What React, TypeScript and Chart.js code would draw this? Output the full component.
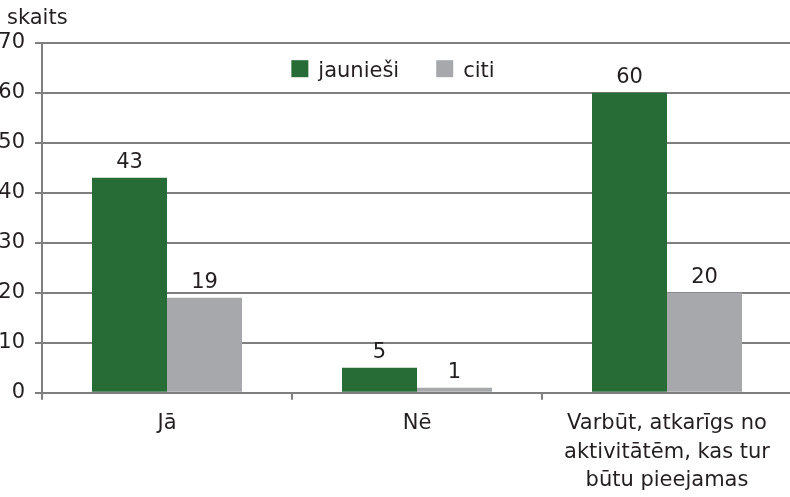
import React, { useEffect, useRef } from 'react';
import { Chart, registerables } from 'chart.js';

Chart.register(...registerables);

const categories: string[][] = [
  ['Jā'],
  ['Nē'],
  ['Varbūt, atkarīgs no', 'aktivitātēm, kas tur', 'būtu pieejamas'],
];
const seriesNames = ['jaunieši', 'citi'];
const youthValues = [43, 5, 60];
const otherValues = [19, 1, 20];
const yMin = 0;
const yMax = 70;
const yStep = 10;
const axisTitle = 'skaits';

const seriesColors = ['#276b36', '#a7a8ab'];
const FONT = 'DejaVu Sans';
const FSIZE = 21;
const TEXT = '#231f20';
const GRID = '#7f7f7f';

const valueLabels = {
  id: 'valueLabels',
  afterDatasetsDraw(chart: any) {
    const ctx = chart.ctx;
    ctx.save();
    ctx.font = `${FSIZE}px "${FONT}"`;
    ctx.fillStyle = TEXT;
    ctx.textAlign = 'center';
    ctx.textBaseline = 'alphabetic';
    chart.data.datasets.forEach((ds: any, i: number) => {
      const meta = chart.getDatasetMeta(i);
      meta.data.forEach((bar: any, j: number) => {
        ctx.fillText(String(ds.data[j]), bar.x, bar.y - 10);
      });
    });
    ctx.restore();
  },
};

const insideLegend = {
  id: 'insideLegend',
  afterDraw(chart: any) {
    const ctx = chart.ctx;
    const area = chart.chartArea;
    ctx.save();
    ctx.font = `${FSIZE}px "${FONT}"`;
    ctx.textAlign = 'left';
    ctx.textBaseline = 'alphabetic';
    const box = 17;
    const gapText = 10;
    const gapItem = 37;
    const items = chart.data.datasets.map((ds: any) => ({
      label: ds.label,
      color: ds.backgroundColor,
      w: ctx.measureText(ds.label).width,
    }));
    const total = items.reduce(
      (s: number, it: any, i: number) => s + box + gapText + it.w + (i ? gapItem : 0),
      0
    );
    let x = area.left + 351 - total / 2;
    const yBase = area.top + 34.5;
    items.forEach((it: any) => {
      ctx.fillStyle = it.color;
      ctx.fillRect(x, yBase - 17, box, box);
      x += box + gapText;
      ctx.fillStyle = TEXT;
      ctx.fillText(it.label, x, yBase);
      x += it.w + gapItem;
    });
    ctx.restore();
  },
};

const axisTitlePlugin = {
  id: 'axisTitlePlugin',
  afterDraw(chart: any) {
    const ctx = chart.ctx;
    const area = chart.chartArea;
    ctx.save();
    ctx.font = `${FSIZE}px "${FONT}"`;
    ctx.fillStyle = TEXT;
    ctx.textAlign = 'left';
    ctx.textBaseline = 'alphabetic';
    ctx.fillText(axisTitle, area.left - 35, area.top - 18.5);
    ctx.restore();
  },
};

export default function App() {
  const ref = useRef<HTMLCanvasElement | null>(null);

  useEffect(() => {
    if (!ref.current) return;
    const font = { family: FONT, size: FSIZE, lineHeight: 1.35 };
    const chart = new Chart(ref.current, {
      type: 'bar',
      data: {
        labels: categories,
        datasets: [
          {
            label: seriesNames[0],
            data: youthValues,
            backgroundColor: seriesColors[0],
            barPercentage: 1,
            categoryPercentage: 0.6,
          },
          {
            label: seriesNames[1],
            data: otherValues,
            backgroundColor: seriesColors[1],
            barPercentage: 1,
            categoryPercentage: 0.6,
          },
        ],
      },
      options: {
        responsive: false,
        animation: false,
        devicePixelRatio: 1,
        layout: { padding: { top: 42.7, right: 18, left: 0, bottom: 0 } },
        plugins: {
          legend: { display: false },
          tooltip: { enabled: false },
        },
        scales: {
          x: {
            grid: {
              drawOnChartArea: false,
              drawTicks: true,
              tickLength: 7,
              color: GRID,
              lineWidth: 2,
              offset: true,
            },
            border: { display: true, color: GRID, width: 2 },
            ticks: {
              color: TEXT,
              font,
              padding: 10,
              maxRotation: 0,
              autoSkip: false,
            },
            afterFit: (s: any) => {
              s.height = 104.3;
            },
          },
          y: {
            min: yMin,
            max: yMax,
            ticks: { stepSize: yStep, color: TEXT, font, padding: 10 },
            grid: { color: GRID, lineWidth: 2, tickLength: 7 },
            border: { display: true, color: GRID, width: 2 },
            afterFit: (s: any) => {
              s.width = 62;
            },
          },
        },
      },
      plugins: [valueLabels, insideLegend, axisTitlePlugin],
    });
    return () => chart.destroy();
  }, []);

  return (
    <div style={{ position: 'fixed', left: -20, top: 0, width: 830, height: 497 }}>
      <canvas ref={ref} width={830} height={497} style={{ width: 830, height: 497 }} />
    </div>
  );
}
